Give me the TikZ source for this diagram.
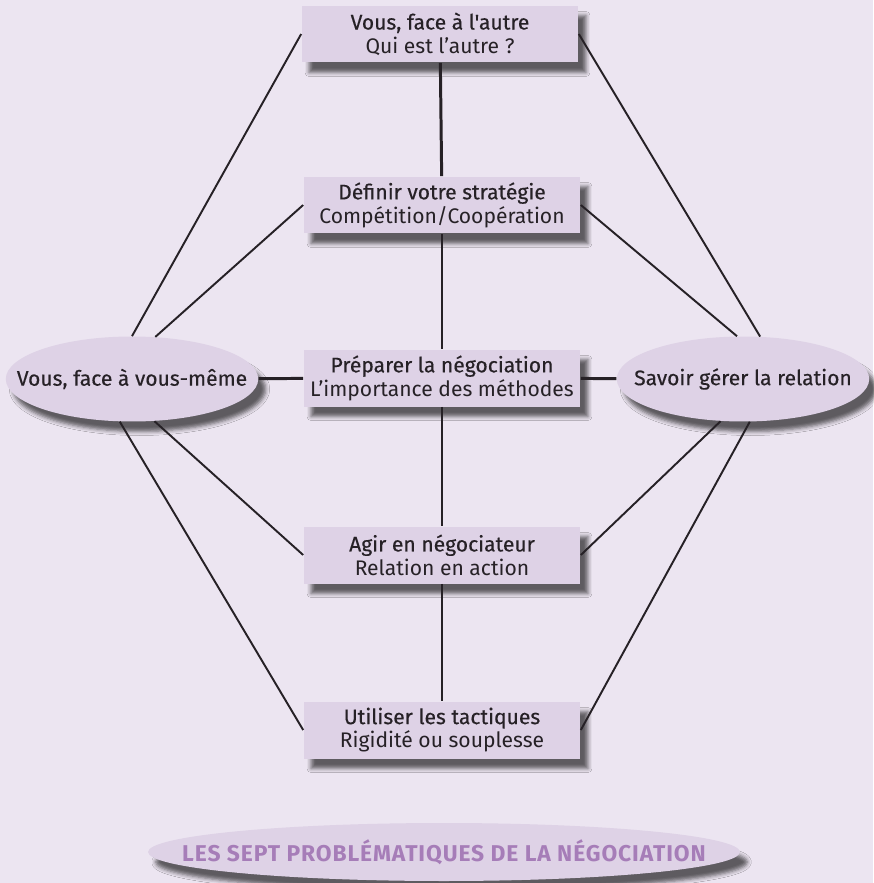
\documentclass[tikz,border=0pt]{standalone}
\usepackage{fontspec}
\setmainfont{Fira Sans}
\newfontfamily\moyen[FakeBold=0.4]{Fira Sans}
\newfontfamily\gras[LetterSpace=4]{Fira Sans Bold}
\usetikzlibrary{shapes.geometric,shadows.blur}

\definecolor{fond}{HTML}{ECE5F1}
\definecolor{boite}{HTML}{DED2E6}
\definecolor{titre}{HTML}{A67DB8}
\definecolor{texte}{HTML}{262126}

\begin{document}
\begin{tikzpicture}[x=0.02cm,y=-0.02cm,
    ombre/.style={blur shadow={shadow xshift=0.15cm,shadow yshift=-0.2cm,
                  shadow blur radius=0.08cm,shadow opacity=60}},
    box/.style={rectangle,fill=boite,ombre,minimum width=5.54cm,minimum height=1.14cm,
                inner sep=0pt,align=center,text=texte,font=\fontsize{12}{13.5}\selectfont},
    oval/.style={ellipse,fill=boite,ombre,minimum width=5.05cm,minimum height=1.7cm,
                 inner xsep=-0.55cm,inner ysep=0pt,text=texte,
                 font=\moyen\fontsize{12}{13.5}\selectfont}]
\fill[fond] (0,0) rectangle (873,883);
\useasboundingbox (0,0) rectangle (873,883);

\node[box] (B1) at (440,34) {{\moyen Vous, face à l\symbol{39}autre}\\Qui est l’autre ?};
\node[box] (B2) at (442,205) {{\moyen Définir votre stratégie}\\Compétition/Coopération};
\node[box] (B3) at (442,378) {{\moyen Préparer la négociation}\\L’importance des méthodes};
\node[box] (B4) at (442,555) {{\moyen Agir en négociateur}\\Relation en action};
\node[box] (B5) at (442,730) {{\moyen Utiliser les tactiques}\\Rigidité ou souplesse};
\node[oval] (L) at (132,379) {Vous, face à vous-même};
\node[oval] (R) at (743,379) {Savoir gérer la relation};
\node[oval,minimum width=11.84cm,minimum height=1.16cm,inner xsep=-1.1cm,text=titre,
      font=\gras\fontsize{13}{15}\selectfont] (T) at (444,852)
      {LES SEPT PROBLÉMATIQUES DE LA NÉGOCIATION};

\begin{scope}[every edge/.style={draw=texte,line width=1.1pt}]
    \path (L.90) edge (B1.west);
    \path (L.61) edge (B2.west);
    \path (L.-62) edge (B4.west);
    \path (L.-106) edge (B5.west);
    \path (R.68) edge (B1.east);
    \path (R.98) edge (B2.east);
    \path (R.-118) edge (B4.east);
    \path (R.-81) edge (B5.east);
\end{scope}

\begin{scope}[every edge/.style={draw=texte,line width=1.7pt}]
    \path (L) edge (B3);
    \path (R) edge (B3);
    \path (B1) edge (B2);
    \path (B2) edge (B3);
    \path (B3) edge (B4);
    \path (B4) edge (B5);
\end{scope}
\end{tikzpicture}
\end{document}
